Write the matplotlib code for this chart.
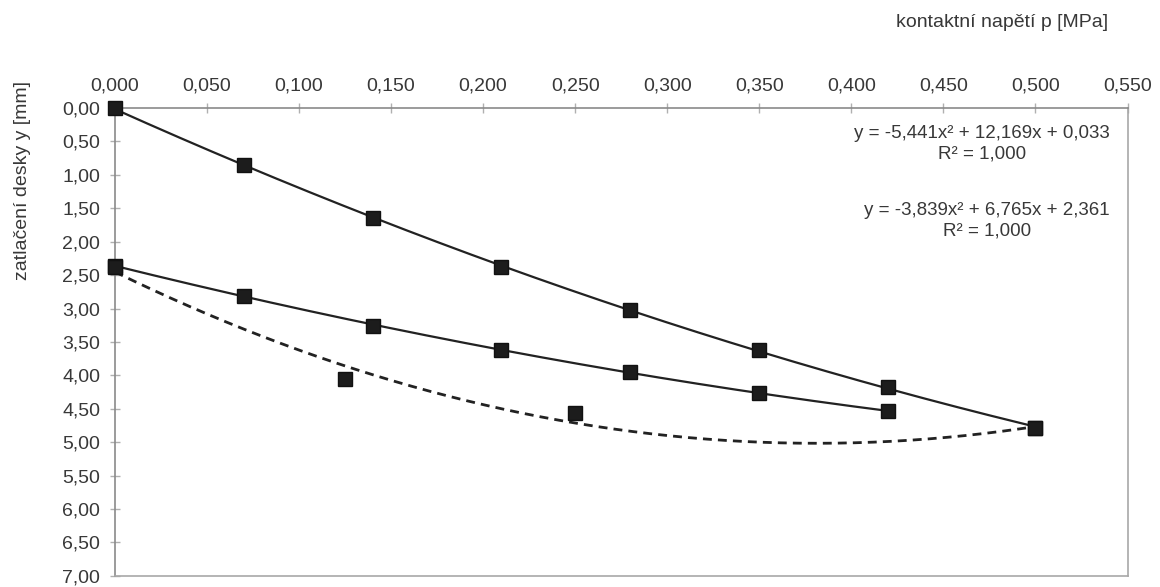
import numpy as np
import matplotlib.pyplot as plt
from matplotlib.ticker import FuncFormatter, MultipleLocator

plt.rcParams['font.family'] = ['Liberation Sans', 'DejaVu Sans']

# data (p in MPa, y in mm)
p_load = [0.0, 0.07, 0.14, 0.21, 0.28, 0.35, 0.42, 0.50]
y_load = [0.00, 0.86, 1.65, 2.38, 3.02, 3.62, 4.18, 4.79]

p_unload = [0.0, 0.07, 0.14, 0.21, 0.28, 0.35, 0.42]
y_unload = [2.36, 2.81, 3.26, 3.62, 3.95, 4.26, 4.54]

p_third = [0.0, 0.125, 0.25, 0.50]
y_third = [2.38, 4.05, 4.57, 4.79]

x_ticks = [0.0, 0.05, 0.10, 0.15, 0.20, 0.25, 0.30, 0.35, 0.40, 0.45, 0.50, 0.55]

eq_load = "y = -5,441x\u00b2 + 12,169x + 0,033\nR\u00b2 = 1,000"
eq_unload = "y = -3,839x\u00b2 + 6,765x + 2,361\nR\u00b2 = 1,000"

txt = "#383838"
axc = "#8a8a8a"

fig = plt.figure(figsize=(11.6, 5.87), dpi=100)
ax = fig.add_axes([0.099, 0.019, 0.873, 0.797])

# polynomial trend lines (2nd order) like Excel
for px, py, ls in [(p_load, y_load, "-"), (p_unload, y_unload, "-"), (p_third, y_third, "--")]:
  c = np.polyfit(px, py, 2)
  xx = np.linspace(min(px), max(px), 200)
  if ls == "-":
    ax.plot(xx, np.polyval(c, xx), color="#222222", lw=1.6, zorder=2)
  else:
    ax.plot(xx, np.polyval(c, xx), color="#222222", lw=2.0, dashes=(3.2, 2.2), zorder=2)

for px, py in [(p_load, y_load), (p_unload, y_unload), (p_third, y_third)]:
  ax.plot(px, py, "s", color="#1c1c1c", ms=10.5, mec="#111111", zorder=3, clip_on=False)

ax.set_xlim(0, 0.55)
ax.set_ylim(7.0, 0.0)

ax.xaxis.tick_top()
ax.set_xticks(x_ticks)
ax.yaxis.set_major_locator(MultipleLocator(0.5))
ax.xaxis.set_major_formatter(FuncFormatter(lambda v, pos: f"{v:.3f}".replace(".", ",")))
ax.yaxis.set_major_formatter(FuncFormatter(lambda v, pos: f"{v:.2f}".replace(".", ",")))
ax.tick_params(axis="x", direction="inout", length=7, width=1, color="#b0b0b0",
               labelsize=14, labelcolor=txt, pad=6)
ax.tick_params(axis="y", direction="inout", length=7, width=1, color="#b0b0b0",
               labelsize=14, labelcolor=txt, pad=7)

for s in ax.spines.values():
  s.set_color(axc)
  s.set_linewidth(1.2)
ax.spines["right"].set_color("#a8a8a8")
ax.spines["bottom"].set_color("#a8a8a8")

fig.text(0.955, 0.962, "kontaktní napětí p [MPa]", ha="right", va="center",
         fontsize=14, color=txt)
fig.text(0.019, 0.692, "zatlačení desky y [mm]", rotation=90, ha="center", va="center",
         fontsize=14, color=txt)

ax.text(0.5405, 0.25, eq_load, transform=ax.transData, ha="right", va="top",
        multialignment="center", fontsize=13.5, color=txt, linespacing=1.3)
ax.text(0.5405, 1.40, eq_unload, transform=ax.transData, ha="right", va="top",
        multialignment="center", fontsize=13.5, color=txt, linespacing=1.3)

fig.savefig("out.png", dpi=100, facecolor="white")
